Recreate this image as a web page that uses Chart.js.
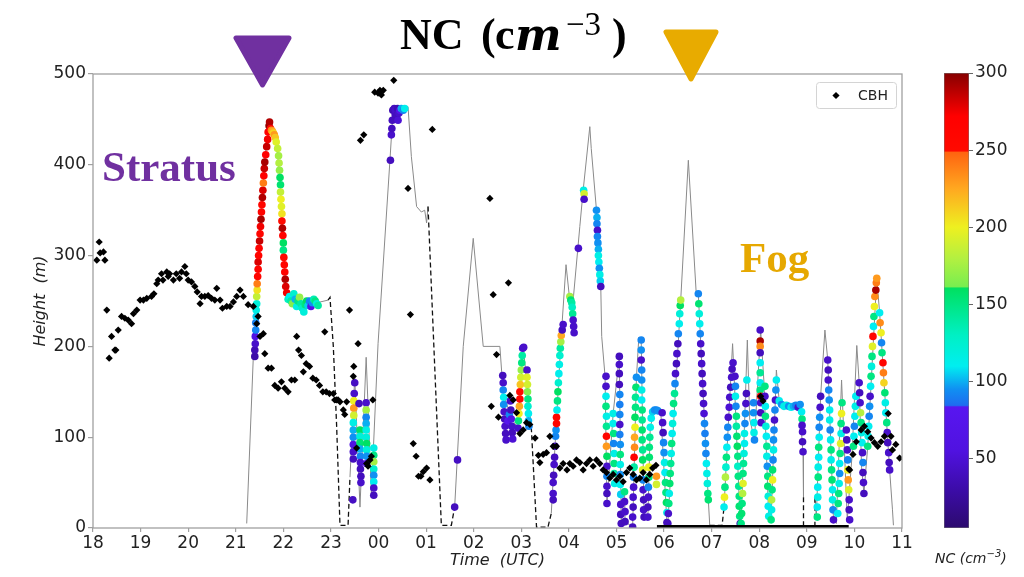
<!DOCTYPE html>
<html>
<head>
<meta charset="utf-8">
<script src="https://cdn.jsdelivr.net/npm/chart.js@4.4.1/dist/chart.umd.min.js"></script>
<style>
html,body{margin:0;padding:0;background:#fff;}
#stage{position:relative;width:1024px;height:577px;overflow:hidden;background:#fff;}
#stage canvas{position:absolute;top:0;}
.t{position:absolute;white-space:nowrap;line-height:1;}
.ttl{font-family:'Liberation Serif',serif;font-weight:bold;font-size:44px;color:#000;top:13px;}
</style>
</head>
<body>
<div id="stage">
  <canvas id="main" width="1024" height="577" style="left:0"></canvas>
  <canvas id="cbar" width="94" height="577" style="left:930px"></canvas>

  <svg width="1024" height="577" style="position:absolute;left:0;top:0;pointer-events:none">
    <polygon points="236,38 289,38 262.5,85" fill="#7030a0" stroke="#7030a0" stroke-width="5" stroke-linejoin="round"/>
    <polygon points="666,32 716,32 691,79" fill="#e8ab00" stroke="#e8ab00" stroke-width="5" stroke-linejoin="round"/>
  </svg>

  <span class="t ttl" style="left:400px">NC</span>
  <span class="t ttl" style="left:481px">(</span>
  <span class="t ttl" style="left:495px">c</span>
  <span class="t ttl" style="left:515px;font-family:'DejaVu Serif',serif;font-style:italic">m</span>
  <span class="t" style="left:566px;top:8px;font-family:'Liberation Serif',serif;font-size:33px;color:#000">&minus;3</span>
  <span class="t ttl" style="left:612px">)</span>

  <span class="t" style="left:102px;top:145px;font-family:'Liberation Serif',serif;font-weight:bold;font-size:43px;color:#7030a0">Stratus</span>
  <span class="t" style="left:740px;top:236px;font-family:'Liberation Serif',serif;font-weight:bold;font-size:43px;color:#e6a800">Fog</span>

  <span class="t" style="left:935px;top:551px;font-family:'DejaVu Sans',sans-serif;font-style:italic;font-size:14px;color:#222">NC (cm<span style="font-size:10px;position:relative;top:-6px">&minus;3</span>)</span>
</div>

<script>
// ---- axes ----
const hourTicks  = [18,19,20,21,22,23,24,25,26,27,28,29,30,31,32,33,34,35];
const hourLabels = ['18','19','20','21','22','23','00','01','02','03','04','05','06','07','08','09','10','11'];
const heightTicks = [0,100,200,300,400,500];
const cbMin = 5, cbMax = 300;
const cbTicks = [50,100,150,200,250,300];

// ---- cloud base height (time [h], height [m]) ----
const cbh = [
 [18.08,295],[18.13,315],[18.15,303],[18.22,304],[18.25,295],[18.29,240],[18.34,187],[18.39,211],[18.46,196],[18.48,196],
 [18.53,218],[18.60,233],[18.67,231],[18.74,229],[18.81,225],[18.85,236],[18.92,240],[18.99,251],[19.06,251],[19.13,253],
 [19.23,255],[19.28,258],[19.34,269],[19.37,273],[19.44,280],[19.47,273],[19.55,282],[19.58,277],[19.61,280],[19.69,273],
 [19.75,280],[19.82,275],[19.86,282],[19.93,288],[19.96,280],[20.00,273],[20.07,271],[20.14,266],[20.19,260],[20.25,247],
 [20.28,255],[20.35,255],[20.42,256],[20.49,253],[20.56,251],[20.60,264],[20.67,251],[20.72,242],[20.81,244],[20.88,244],
 [20.95,249],[21.02,255],[21.09,262],[21.16,255],[21.26,246],[21.37,244],[21.44,225],[21.47,233],[21.51,211],[21.58,214],
 [21.61,192],[21.68,176],[21.75,176],[21.82,157],[21.89,154],[21.96,161],[22.03,154],[22.10,150],[22.17,163],[22.24,163],
 [22.28,211],[22.32,196],[22.38,190],[22.42,172],[22.48,181],[22.55,178],[22.62,165],[22.69,163],[22.76,157],[22.83,150],
 [22.87,216],[22.90,150],[22.97,148],[23.05,148],[23.08,141],[23.12,141],[23.15,141],[23.19,139],[23.26,130],[23.29,125],
 [23.33,139],[23.39,240],[23.47,167],[23.48,178],[23.54,88],[23.57,203],[23.62,427],[23.69,433],[23.75,71],[23.78,68],
 [23.82,75],[23.85,79],[23.88,141],[23.92,480],[23.99,479],[24.03,482],[24.06,477],[24.10,482],[24.32,493],[24.62,374],
 [24.67,235],[24.73,93],[24.79,79],[24.84,57],[24.89,57],[24.94,62],[25.01,66],[25.08,53],[25.13,439],[26.34,363],
 [26.41,257],[26.48,191],[26.73,270],[26.37,134],[26.52,122],[26.76,146],[26.83,141],[26.90,127],[26.97,104],[27.04,108],
 [27.11,116],[27.18,114],[27.29,99],[27.36,80],[27.39,72],[27.46,81],[27.53,83],[27.60,101],[27.67,90],[27.74,90],
 [27.81,66],[27.88,71],[27.96,64],[28.02,71],[28.09,68],[28.16,75],[28.23,72],[28.30,64],[28.37,71],[28.44,75],
 [28.51,68],[28.58,75],[28.65,71],[28.72,64],[28.79,61],[28.86,55],[28.93,59],[29.00,53],[29.07,57],[29.14,51],
 [29.21,61],[29.28,66],[29.35,59],[29.42,53],[29.49,55],[29.56,61],[29.63,53],[29.70,59],[29.76,66],[29.83,69],
 [32.03,145],[32.08,140],[33.88,65],[33.90,64],[33.97,81],[34.04,95],[34.14,108],[34.21,112],[34.28,106],[34.35,99],
 [34.42,94],[34.49,90],[34.56,95],[34.63,101],[34.71,126],[34.77,101],[34.80,86],[34.87,92],[34.95,77]
];
// cloud base at the surface during the fog period
const cbhSurface = [[29.85,0],[33.88,0]];

// ---- aircraft height: solid where flown, dashed near the ground ----
const flightSolid = [
 [[21.23,5],[21.37,190],[21.45,262],[21.55,356],[21.62,410],[21.70,446],[21.78,437],[21.85,425],[21.93,386],[21.99,322],[22.05,266],[22.10,255],[22.40,245],[22.70,248],[22.94,251]],
 [[23.40,56],[23.50,166],[23.61,23],[23.74,188],[23.85,38],[23.99,203],[24.24,405],[24.31,464],[24.62,464],[24.69,409],[24.80,354],[24.90,348],[24.97,350],[25.01,336],[25.04,354]],
 [[25.60,23],[25.78,200],[25.99,319],[26.20,200],[26.55,200],[26.62,148],[26.80,120],[26.93,110],[27.04,200],[27.21,111]],
 [[27.63,16],[27.72,101],[27.84,212],[27.94,290],[28.01,255],[28.09,251],[28.23,332],[28.30,372],[28.44,442],[28.47,418],[28.58,350],[28.67,266],[28.69,211],[28.76,167],[28.80,27],[28.93,126],[29.06,189],[29.10,5],[29.17,40],[29.18,7],[29.34,1],[29.42,166],[29.47,210],[29.52,207],[29.58,12],[29.66,12],[29.71,111],[29.80,130],[29.93,129],[30.06,6],[30.08,5],[30.35,251],[30.51,405],[30.68,255],[30.72,258],[30.93,31],[30.96,3]],
 [[31.26,23],[31.44,203],[31.47,170],[31.60,5],[31.62,5],[31.75,207],[31.80,120],[31.90,97],[32.03,218],[32.10,160],[32.20,9],[32.25,9],[32.36,174],[32.42,140],[32.47,136],[32.85,134],[32.92,82],[32.93,34]],
 [[33.17,34],[33.20,12],[33.29,145],[33.38,218],[33.44,185],[33.56,9],[33.62,5],[33.73,163],[33.85,9],[33.95,80],[34.05,201],[34.10,160],[34.15,67],[34.20,38],[34.28,90],[34.47,275],[34.53,237],[34.74,64],[34.80,20],[34.82,3]]
];
const flightDashed = [
 [[22.94,251],[22.98,254],[23.05,200],[23.12,112],[23.19,3],[23.36,3],[23.40,56]],
 [[25.04,354],[25.32,3],[25.53,3],[25.60,23]],
 [[27.21,111],[27.32,1],[27.56,1],[27.63,16]],
 [[30.96,3],[31.22,3],[31.26,23]],
 [[32.93,34],[32.93,2],[33.17,2],[33.17,34]]
];

// ---- droplet number concentration along the flight (time [h], height [m], NC [cm^-3]) ----
const ncStratus = [
 [21.40,189,30],[21.40,196,35],[21.41,203,45],[21.41,211,60],[21.42,218,92],[21.42,226,90],[21.43,233,105],[21.43,240,115],[21.44,247,120],[21.44,255,185],
 [21.45,262,205],[21.45,269,240],[21.46,277,260],[21.47,285,265],[21.47,293,280],[21.48,300,262],[21.49,308,270],[21.50,316,285],[21.51,324,260],[21.52,332,275],
 [21.53,340,292],[21.54,348,265],[21.55,356,258],[21.56,364,290],[21.57,372,280],[21.58,380,240],[21.59,388,270],[21.60,396,285],[21.61,403,292],[21.63,411,270],
 [21.65,420,285],[21.67,428,275],[21.68,436,270],[21.70,443,298],[21.71,447,290],
 [21.73,440,262],[21.75,438,235],[21.77,437,225],[21.79,435,210],[21.81,433,230],[21.83,430,215],[21.85,425,195],
 [21.88,418,185],[21.90,410,175],[21.91,402,180],[21.92,394,170],[21.93,386,160],[21.94,378,155],[21.94,370,185],[21.95,362,200],[21.96,354,195],[21.97,346,205],
 [21.97,338,250],[21.98,330,290],[21.99,322,265],[22.00,314,160],[22.00,306,150],[22.01,298,255],[22.02,290,260],[22.03,282,265],[22.04,274,290],[22.05,266,280],[22.07,259,275],
 [22.10,252,130],[22.13,255,112],[22.16,250,140],[22.19,247,165],[22.22,258,125],[22.25,252,100],[22.28,244,115],[22.31,250,150],[22.34,254,170],[22.37,247,140],
 [22.40,242,130],[22.43,238,120],[22.46,246,150],[22.49,250,160],[22.52,245,105],[22.55,250,92],[22.58,244,70],[22.61,248,95],[22.64,252,135],[22.67,250,150],
 [22.70,247,120],[22.73,245,140]
];
const ncMidnight = [
 [23.50,160,42],[23.49,148,45],[23.48,140,200],[23.48,132,230],[23.48,124,190],[23.47,116,115],[23.47,108,100],[23.47,100,95],[23.47,92,60],[23.47,84,45],[23.47,76,40],[23.46,31,42],
 [23.59,137,40],[23.61,108,160],[23.61,101,120],[23.61,94,155],[23.61,87,100],[23.62,79,92],[23.62,72,45],[23.62,65,40],[23.63,57,40],[23.63,50,45],
 [23.74,138,45],[23.74,130,175],[23.74,122,92],[23.74,115,100],[23.74,108,115],[23.74,100,120],[23.75,93,160],[23.75,86,120],[23.75,79,95],[23.75,71,55],
 [23.90,88,115],[23.90,80,150],[23.90,73,175],[23.90,65,125],[23.90,58,95],[23.90,51,110],[23.90,44,45],[23.90,36,40],
 [24.25,405,40],[24.27,433,45],[24.28,440,40],[24.29,449,40],[24.30,460,35],[24.33,462,40],[24.35,455,40],[24.36,460,45],[24.39,455,40],[24.40,462,35],
 [24.41,449,50],[24.43,457,45],[24.45,460,70],[24.48,462,100],[24.52,460,92],[24.55,462,112],
 [25.60,23,40],[25.66,75,42]
];
const ncEarly = [
 [26.61,168,40],[26.62,160,45],[26.62,152,92],[26.63,144,110],[26.63,136,95],[26.64,128,45],[26.65,120,40],[26.66,112,45],[26.67,104,40],[26.68,97,45],
 [26.72,118,75],[26.75,125,92],[26.77,140,45],[26.78,130,40],[26.79,120,60],[26.80,112,45],[26.81,105,40],[26.82,98,50],
 [26.93,110,45],[26.94,118,150],[26.95,126,200],[26.96,134,225],[26.97,142,260],[26.97,150,255],[26.98,158,215],[26.99,166,190],[27.00,174,170],[27.01,182,150],[27.02,190,140],[27.03,198,45],[27.05,199,45],
 [27.12,174,45],[27.12,166,195],[27.13,158,190],[27.13,150,165],[27.14,142,150],[27.14,134,125],[27.15,126,110],[27.15,118,100],[27.16,112,92],
 [27.67,31,40],[27.67,38,45],[27.67,50,45],[27.68,58,40],[27.69,70,45],[27.70,78,40],[27.71,90,45],[27.72,101,92],[27.73,108,95],[27.74,115,260],
 [27.74,122,255],[27.75,130,112],[27.76,140,150],[27.77,150,160],[27.78,160,125],[27.79,170,112],[27.80,180,115],[27.81,190,125],[27.82,198,140],[27.83,205,175],
 [27.84,212,225],[27.86,218,40],[27.88,224,45],
 [28.02,255,175],[28.04,251,155],[28.06,248,140],[28.07,243,130],[28.08,236,145],[28.09,229,45],[28.10,222,45],[28.11,215,45],
 [28.20,308,45],[28.31,372,115],[28.32,368,190],[28.32,362,45],
 [28.58,350,95],[28.59,342,100],[28.59,335,92],[28.60,328,45],[28.60,321,92],[28.61,314,95],[28.62,307,100],[28.62,300,115],[28.63,293,110],[28.64,286,95],
 [28.65,279,115],[28.66,272,105],[28.67,266,40]
];
const ncDawn = [
 [28.78,167,45],[28.78,156,45],[28.78,145,112],[28.78,134,150],[28.79,123,115],[28.79,112,145],[28.79,101,260],[28.79,90,230],[28.80,79,160],[28.80,68,45],[28.80,57,92],[28.80,46,45],[28.80,38,40],[28.80,27,45],
 [28.93,126,115],[28.93,115,112],[28.94,104,150],[28.94,93,92],[28.95,82,115],[28.95,71,150],[28.95,60,140],[28.96,49,115],
 [29.06,189,40],[29.06,180,45],[29.06,170,40],[29.06,158,40],[29.07,147,92],[29.07,136,90],[29.07,125,92],[29.07,114,45],[29.07,103,90],[29.08,92,95],
 [29.08,81,150],[29.08,70,115],[29.08,59,95],[29.08,48,110],[29.09,37,105],[29.09,26,45],[29.09,15,40],[29.10,5,40],
 [29.17,40,150],[29.17,29,45],[29.18,18,45],[29.18,7,40],
 [29.34,1,40],[29.34,12,45],[29.35,23,40],[29.35,34,45],[29.36,45,45],[29.36,56,92],[29.37,67,140],[29.37,78,262],[29.38,89,235],[29.38,100,225],
 [29.39,111,200],[29.39,122,160],[29.40,133,150],[29.40,144,145],[29.41,155,155],[29.42,166,95],
 [29.52,207,92],[29.52,196,95],[29.52,185,45],[29.53,174,92],[29.53,163,95],[29.53,152,115],[29.53,141,110],[29.54,130,150],[29.54,119,145],[29.54,108,155],
 [29.54,97,150],[29.55,86,145],[29.55,75,160],[29.55,64,195],[29.56,53,92],[29.56,42,45],[29.57,31,40],[29.57,20,45],[29.58,12,40],
 [29.66,12,45],[29.66,23,40],[29.67,34,45],[29.67,45,92],[29.68,56,150],[29.68,67,200],[29.69,78,155],[29.69,89,150],[29.70,100,145],[29.71,111,115],
 [29.73,121,110],[29.76,128,105],[29.80,130,95],[29.84,130,92],[29.87,129,95],[29.84,57,230],[29.84,48,190],
 [29.96,127,45],[29.97,116,45],[29.98,105,40],[29.99,94,92],[30.00,83,95],[30.01,72,115],[30.02,61,110],[30.03,50,150],[30.04,39,150],[30.05,28,160],[30.06,17,115],[30.06,6,40],
 [30.08,5,40],[30.09,16,45],[30.10,27,150],[30.11,38,115],[30.12,49,155],[30.13,60,150],[30.14,71,145],[30.15,82,115],[30.16,93,150],[30.17,104,112],
 [30.18,115,120],[30.19,126,112],[30.20,137,150],[30.22,148,145],[30.23,159,92],[30.24,170,45],[30.26,181,40],[30.27,192,45],[30.29,203,40],[30.30,214,92],
 [30.32,225,112],[30.33,236,120],[30.34,245,160],[30.35,251,180],
 [30.72,258,92],[30.73,247,155],[30.74,236,120],[30.75,225,112],[30.76,214,92],[30.77,203,45],[30.78,192,40],[30.79,181,45],[30.80,170,40],[30.81,159,45],
 [30.82,148,40],[30.83,137,45],[30.84,126,50],[30.85,115,92],[30.86,104,90],[30.87,93,95],[30.88,82,92],[30.89,71,110],[30.90,60,115],[30.91,49,120],
 [30.92,38,150],[30.93,31,155]
];
const ncMorning = [
 [31.26,23,112],[31.27,34,200],[31.28,45,150],[31.29,56,180],[31.30,67,125],[31.31,78,150],[31.32,89,110],[31.33,100,95],[31.34,111,92],[31.35,122,45],
 [31.37,133,50],[31.38,144,45],[31.40,155,40],[31.42,166,45],[31.43,175,40],[31.45,182,45],
 [31.49,167,45],[31.50,156,92],[31.50,145,112],[31.51,134,92],[31.52,123,150],[31.52,112,140],[31.53,101,155],[31.54,90,160],[31.55,79,150],[31.55,68,130],
 [31.56,57,150],[31.57,46,145],[31.58,35,150],[31.58,24,155],[31.59,13,150],[31.60,5,40],
 [31.62,5,150],[31.63,16,155],[31.64,27,150],[31.65,38,180],[31.66,49,195],[31.66,60,150],[31.67,71,145],[31.68,82,120],[31.69,93,112],[31.69,104,115],
 [31.70,115,92],[31.71,126,95],[31.72,137,45],[31.73,148,40],[31.74,163,112],
 [31.88,138,92],[31.88,127,95],[31.89,116,110],[31.89,105,115],[31.90,97,92],
 [32.02,218,45],[32.02,206,292],[32.02,200,235],[32.02,193,40],[32.02,182,110],[32.02,171,145],[32.02,160,110],[32.02,152,150],[32.03,145,260],[32.03,138,45],[32.03,127,40],[32.04,116,45],
 [32.12,156,150],[32.12,145,45],[32.13,134,112],[32.13,123,150],[32.14,112,120],[32.15,101,110],[32.16,90,145],[32.16,79,115],[32.17,68,95],[32.18,57,150],
 [32.18,46,155],[32.19,35,120],[32.19,24,110],[32.20,13,115],
 [32.25,9,150],[32.26,20,115],[32.26,31,180],[32.27,42,150],[32.28,53,200],[32.28,64,155],[32.29,75,92],[32.30,86,115],[32.30,97,95],[32.31,108,92],
 [32.32,119,45],[32.33,130,92],[32.34,141,45],[32.35,152,95],[32.36,163,110],
 [32.42,140,110],[32.47,136,95],[32.52,134,112],[32.57,135,115],[32.62,134,95],[32.67,133,110],[32.72,134,100],[32.77,135,92],[32.82,133,45],[32.86,136,95],
 [32.89,128,110],[32.90,120,150],[32.90,113,45],[32.91,106,45],[32.91,95,40],[32.92,84,45]
];
const ncLate = [
 [33.22,12,150],[33.22,23,110],[33.23,34,115],[33.23,45,110],[33.24,56,150],[33.24,67,115],[33.25,78,110],[33.25,89,150],[33.26,100,110],[33.26,111,92],
 [33.27,122,95],[33.28,133,45],[33.29,145,40],
 [33.44,185,45],[33.45,174,40],[33.45,163,45],[33.46,152,92],[33.47,141,95],[33.48,130,112],[33.48,119,115],[33.49,108,92],[33.50,97,112],[33.51,86,150],
 [33.51,75,115],[33.52,64,150],[33.53,53,155],[33.54,42,112],[33.54,31,115],[33.55,20,92],[33.56,9,45],
 [33.65,16,110],[33.66,27,150],[33.67,38,150],[33.68,49,115],[33.69,60,95],[33.69,71,110],[33.70,82,150],[33.71,93,195],[33.72,104,115],[33.72,115,150],
 [33.73,126,200],[33.74,138,150],
 [33.83,108,45],[33.84,97,40],[33.85,86,45],[33.86,75,92],[33.86,64,200],[33.87,53,230],[33.88,42,195],[33.89,31,45],[33.89,20,40],[33.90,9,45],
 [33.98,90,150],[33.99,101,110],[34.00,112,92],[34.01,123,110],[34.02,134,115],[34.03,145,110],
 [34.10,160,45],[34.11,149,40],[34.12,138,45],[34.13,127,180],[34.14,116,150],[34.15,105,115],[34.16,94,110],[34.17,83,45],[34.18,72,92],[34.18,61,40],
 [34.19,50,45],[34.20,38,40],
 [34.28,90,150],[34.29,101,115],[34.30,112,110],[34.31,123,92],[34.32,134,95],[34.33,145,45],[34.34,156,110],[34.35,167,150],[34.36,178,120],[34.37,189,150],
 [34.38,200,195],[34.39,211,260],[34.40,222,110],[34.41,233,150],[34.42,244,200],[34.43,255,235],[34.45,262,292],[34.46,270,240],[34.47,275,230],
 [34.53,237,110],[34.54,226,235],[34.56,215,200],[34.57,204,92],[34.58,193,150],[34.60,182,260],[34.61,171,240],[34.62,160,210],[34.64,149,155],[34.65,138,115],
 [34.66,127,110],[34.68,116,150],[34.69,105,45],[34.70,94,40],[34.72,83,45],[34.73,72,40],[34.74,64,45]
];

// ---- colour scale for NC ----
const cmapStops = [
 [5,'#2c0a6e'],[30,'#3c0ca8'],[55,'#5012e0'],[83.5,'#5816f0'],[84.5,'#1e6cf0'],[95,'#1090f2'],
 [110,'#00eef0'],[130,'#00f0c4'],[160.5,'#00e060'],[161.5,'#78ee50'],[180,'#b4f040'],[200,'#eef020'],
 [225,'#ffa820'],[248.5,'#ff6410'],[249.5,'#ff0a00'],[272,'#ff0000'],[300,'#860000']
];
function hexRgb(h){ return [parseInt(h.slice(1,3),16),parseInt(h.slice(3,5),16),parseInt(h.slice(5,7),16)]; }
function ncColor(v){
  if (v <= cmapStops[0][0]) return cmapStops[0][1];
  for (let i = 1; i < cmapStops.length; i++){
    const [v1,c1] = cmapStops[i];
    if (v <= v1){
      const [v0,c0] = cmapStops[i-1];
      const f = (v - v0) / (v1 - v0);
      const a = hexRgb(c0), b = hexRgb(c1);
      return 'rgb(' + a.map((x,k)=>Math.round(x + (b[k]-x)*f)).join(',') + ')';
    }
  }
  return cmapStops[cmapStops.length-1][1];
}

const pairs = arr => arr.map(([x,y]) => ({x, y}));
const ncPoints = [ncStratus, ncMidnight, ncEarly, ncDawn, ncMorning, ncLate].flat().map(([x,y,nc]) => ({x, y, nc}));

const datasets = [];
flightSolid.forEach(seg => datasets.push({
  data: pairs(seg), showLine: true, pointRadius: 0, borderColor: '#8a8a8a', borderWidth: 1, order: 5
}));
flightDashed.forEach(seg => datasets.push({
  data: pairs(seg), showLine: true, pointRadius: 0, borderColor: '#111', borderWidth: 1.3, borderDash: [5,3], order: 4
}));
datasets.push({
  label: 'NC', data: ncPoints, pointRadius: 3.8, pointHoverRadius: 3.8, borderWidth: 0,
  backgroundColor: ctx => ncColor(ctx.raw ? ctx.raw.nc : 100), order: 3
});
datasets.push({
  label: 'CBH surface', data: pairs(cbhSurface), showLine: true, pointRadius: 0, borderColor: '#000', borderWidth: 6, clip: 0, order: 2
});
datasets.push({
  label: 'CBH', data: pairs(cbh), pointStyle: 'rectRot', pointRadius: 3.6, pointHoverRadius: 3.6,
  backgroundColor: '#000', borderColor: '#000', borderWidth: 0, order: 1
});

// axes frame on all four sides
const frame = {
  id: 'frame',
  afterDatasetsDraw(chart){
    const {ctx, chartArea: a} = chart;
    ctx.save();
    ctx.strokeStyle = '#a0a0a0';
    ctx.lineWidth = 1.3;
    ctx.strokeRect(a.left, a.top, a.right - a.left, a.bottom - a.top);
    ctx.restore();
  }
};
// legend box for the CBH markers
const cbhKey = {
  id: 'cbhKey',
  afterDraw(chart){
    const ctx = chart.ctx;
    ctx.save();
    ctx.fillStyle = 'rgba(255,255,255,0.9)';
    ctx.strokeStyle = '#d4d4d4';
    ctx.lineWidth = 1;
    ctx.beginPath();
    ctx.roundRect(816.5, 82.5, 80, 26, 3);
    ctx.fill(); ctx.stroke();
    Chart.helpers.drawPoint(ctx, {pointStyle: 'rectRot', radius: 3.6, borderWidth: 0}, 836, 95.5);
    ctx.fillStyle = '#000';
    ctx.fill();
    ctx.fillStyle = '#222';
    ctx.font = '14px "DejaVu Sans"';
    ctx.textBaseline = 'middle';
    ctx.fillText('CBH', 858, 96);
    ctx.restore();
  }
};

const tickFont = {family: 'DejaVu Sans', size: 17};
new Chart(document.getElementById('main'), {
  type: 'scatter',
  data: {datasets},
  options: {
    responsive: false, animation: false, devicePixelRatio: 1,
    layout: {padding: {top: 74, right: 122, bottom: 0, left: 0}},
    plugins: {legend: {display: false}, tooltip: {enabled: false}},
    scales: {
      x: {
        type: 'linear', min: 18, max: 35,
        afterBuildTicks: s => { s.ticks = hourTicks.map(v => ({value: v})); },
        ticks: {callback: (v, i) => hourLabels[i], font: tickFont, color: '#222', padding: 1, maxRotation: 0, autoSkip: false},
        grid: {drawOnChartArea: false, drawTicks: true, tickLength: 4, color: '#a0a0a0', lineWidth: 1.2},
        border: {display: false},
        title: {display: true, text: 'Time  (UTC)', font: {family: 'DejaVu Sans', size: 16, style: 'italic'}, color: '#222', padding: {top: 0, bottom: 6.4}},
        afterFit: s => { s.height = 49; }
      },
      y: {
        min: 0, max: 500,
        afterBuildTicks: s => { s.ticks = heightTicks.map(v => ({value: v})); },
        ticks: {font: tickFont, color: '#222', padding: 2},
        grid: {drawOnChartArea: false, drawTicks: true, tickLength: 5, color: '#a0a0a0', lineWidth: 1.2},
        border: {display: false},
        title: {display: true, text: 'Height  (m)', font: {family: 'DejaVu Sans', size: 16, style: 'italic'}, color: '#222', padding: {top: 31.4, bottom: 0}},
        afterFit: s => { s.width = 93; }
      }
    }
  },
  plugins: [frame, cbhKey]
});

// colour bar
function cbarGradient(ctx){
  const a = ctx.chart.chartArea;
  if (!a) return '#888';
  const g = ctx.chart.ctx.createLinearGradient(0, a.bottom, 0, a.top);
  cmapStops.forEach(([v, c]) => g.addColorStop(Math.min(1, Math.max(0, (v - cbMin) / (cbMax - cbMin))), c));
  return g;
}
new Chart(document.getElementById('cbar'), {
  type: 'bar',
  data: {labels: [''], datasets: [{
    data: [[cbMin, cbMax]], backgroundColor: cbarGradient, borderColor: '#777', borderWidth: 0.8,
    borderSkipped: false, barPercentage: 1, categoryPercentage: 1
  }]},
  options: {
    responsive: false, animation: false, devicePixelRatio: 1,
    layout: {padding: {left: 14, top: 73, bottom: 49, right: 0}},
    plugins: {legend: {display: false}, tooltip: {enabled: false}},
    scales: {
      x: {display: false},
      y: {
        position: 'right', min: cbMin, max: cbMax,
        afterBuildTicks: s => { s.ticks = cbTicks.map(v => ({value: v})); },
        ticks: {font: tickFont, color: '#222', padding: 2},
        grid: {drawOnChartArea: false, drawTicks: true, tickLength: 4, color: '#666'},
        border: {display: false},
        afterFit: s => { s.width = 55; }
      }
    }
  }
});
</script>
</body>
</html>
